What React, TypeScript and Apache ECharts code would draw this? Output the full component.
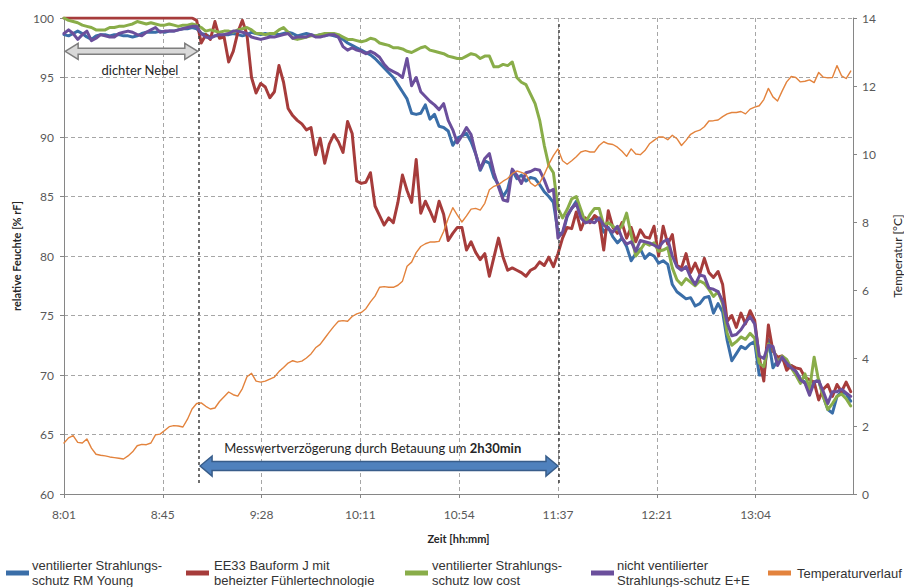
import React, { useEffect, useRef } from 'react';
import * as echarts from 'echarts';

// ---- axis / tick data ----
const tickLabels = ['8:01', '8:45', '9:28', '10:11', '10:54', '11:37', '12:21', '13:04'];
const TICK_STEP_MIN = 43.2; // minutes between labelled ticks
const SAMPLE_STEP_MIN = 2; // minutes between samples
const X_MAX_MIN = 345;

// ---- relative humidity [% rF] ----
const rmYoungRH = [
  98.6, 98.5, 98.7, 98.9, 98.7, 98.4, 98.2, 98.5, 98.6, 98.6,
  98.5, 98.6, 98.6, 98.5, 98.5, 98.4, 98.5, 98.7, 98.8, 98.8,
  98.8, 98.9, 98.8, 98.9, 98.9, 99.0, 99.1, 99.1, 99.2, 99.1,
  98.7, 98.6, 98.4, 98.5, 98.5, 98.6, 98.6, 98.7, 98.6, 98.5,
  98.6, 98.8, 98.7, 98.6, 98.7, 98.6, 98.7, 98.6, 98.7, 98.8,
  98.7, 98.5, 98.6, 98.7, 98.6, 98.5, 98.6, 98.5, 98.6, 98.5,
  98.4, 98.2, 97.9, 97.7, 97.5, 97.3, 97.1, 96.9, 96.6, 96.2,
  95.8, 95.4, 95.0, 94.4, 93.8, 93.2, 92.0, 91.9, 92.0, 92.7,
  91.5, 91.9, 90.9, 90.8, 90.5, 89.3, 89.9, 90.1, 90.3, 89.6,
  88.6, 87.2, 88.0, 87.8, 86.6, 86.0, 85.0, 85.6, 87.2, 86.5,
  86.8, 86.3, 86.6, 86.5, 86.0, 85.4, 85.0, 84.5, 82.0, 81.8,
  83.3, 84.0, 84.6, 83.4, 82.8, 83.0, 83.2, 83.0, 82.0, 82.4,
  81.6, 81.1, 81.5, 80.8, 79.6, 80.2, 80.6, 79.8, 80.2, 80.0,
  79.4, 79.6, 79.3, 77.6, 77.0, 76.7, 76.4, 76.5, 75.8, 76.0,
  76.5, 76.6, 75.2, 76.0, 75.3, 72.9, 71.2, 71.8, 72.4, 72.2,
  72.6, 72.8, 70.0, 70.0, 73.0, 70.6, 71.2, 71.5, 70.7, 70.8,
  70.3, 69.7, 69.4, 68.5, 69.4, 69.6, 68.2, 67.1, 66.8, 68.2,
  68.6, 68.4, 67.8,
];

const ee33RH = [
  100, 100, 100, 100, 100, 100, 100, 100, 100, 100,
  100, 100, 100, 100, 100, 100, 100, 100, 100, 100,
  100, 100, 100, 100, 100, 100, 100, 100, 100, 99.8,
  97.9, 98.6, 98.2, 99.7, 98.3, 98.4, 96.3, 97.2, 98.8, 99.8,
  98.6, 95.0, 93.7, 94.5, 94.2, 93.3, 93.8, 96.0, 94.6, 92.4,
  91.8, 91.4, 91.1, 90.6, 90.8, 88.5, 89.9, 87.8, 89.4, 90.2,
  89.6, 88.7, 91.3, 90.3, 86.3, 86.1, 86.2, 87.0, 84.2, 83.4,
  82.6, 83.2, 82.8, 84.5, 86.8, 85.5, 84.5, 88.1, 83.6, 84.6,
  83.8, 82.9, 84.6, 83.5, 81.3, 81.9, 82.4, 82.4, 80.5, 81.2,
  80.3, 79.7, 80.2, 78.3, 79.9, 81.5, 79.9, 78.8, 79.0, 78.8,
  78.6, 78.3, 78.8, 79.0, 79.5, 79.2, 79.9, 79.1, 80.2, 81.5,
  82.4, 82.3, 83.7, 82.2, 83.2, 82.8, 83.4, 83.1, 80.5, 83.8,
  82.4, 81.9, 82.8, 81.5, 82.4, 81.2, 82.2, 81.6, 81.5, 82.5,
  80.0, 82.5, 81.0, 81.8, 79.2, 79.0, 80.2, 78.6, 79.4, 78.5,
  79.8, 78.6, 78.2, 78.7, 77.6, 74.5, 75.0, 74.0, 75.2, 74.3,
  75.4, 74.6, 71.5, 69.5, 74.2, 72.0, 71.5, 71.6, 70.4, 70.8,
  70.6, 70.5, 69.8, 69.6, 69.4, 67.9, 68.8, 69.2, 68.2, 69.2,
  68.6, 69.4, 68.6,
];

const lowCostRH = [
  100.0, 99.8, 99.7, 99.6, 99.4, 99.3, 99.2, 99.0, 99.0, 99.0,
  99.2, 99.2, 99.3, 99.3, 99.4, 99.5, 99.7, 99.6, 99.5, 99.6,
  99.5, 99.4, 99.4, 99.5, 99.4, 99.3, 99.4, 99.4, 99.5, 99.4,
  99.2, 98.9, 99.0, 98.9, 98.8, 98.9, 98.9, 98.8, 99.0, 99.1,
  99.2, 99.0, 98.7, 98.7, 98.6, 98.7, 98.7, 99.0, 99.2, 98.8,
  98.3, 98.2, 98.3, 98.4, 98.5, 98.5, 98.6, 98.7, 98.7, 98.7,
  98.6, 98.4, 98.2, 98.2, 98.1, 98.0, 98.1, 98.3, 98.2, 97.9,
  97.8, 97.7, 97.5, 97.5, 97.4, 97.2, 97.1, 97.3, 97.5, 97.6,
  97.3, 97.2, 97.1, 97.0, 96.8, 96.7, 96.6, 96.6, 96.8, 97.0,
  96.9, 96.6, 96.8, 96.8, 95.9, 95.9, 96.1, 96.0, 96.3, 95.0,
  94.6, 94.4, 93.6, 92.8, 91.4, 89.3, 87.6, 87.0, 84.0, 83.2,
  83.9, 84.8, 85.0, 83.9, 82.8, 83.5, 84.0, 84.0, 82.6, 82.8,
  82.5, 82.2, 82.5, 83.6, 81.8, 80.0, 80.5, 81.1, 80.9, 81.1,
  80.4, 80.5, 80.7, 79.0, 78.0, 77.6, 78.1, 77.8, 77.5, 77.9,
  77.7, 77.2, 76.6, 77.0, 76.0, 73.5, 72.5, 72.8, 73.2, 73.0,
  73.5, 73.1, 71.0, 70.7, 72.6, 72.3, 71.0, 71.6, 71.3, 70.6,
  70.0, 69.3, 70.1, 68.8, 71.5, 69.5, 68.2, 67.1, 67.6, 68.2,
  68.4, 68.0, 67.4,
];

const eeNonVentRH = [
  98.7, 99.0, 98.7, 98.2, 98.6, 98.9, 98.1, 98.3, 98.6, 98.5,
  98.4, 98.4, 98.7, 98.8, 98.9, 98.8, 98.6, 98.5, 98.8, 99.0,
  99.2, 98.8, 98.9, 98.9, 98.9, 99.0, 99.1, 99.2, 99.3, 99.3,
  98.7, 98.4, 98.3, 98.5, 98.6, 98.6, 98.7, 98.9, 98.9, 98.8,
  98.7, 98.4, 98.3, 98.2, 98.3, 98.4, 98.4, 98.5, 98.6, 98.7,
  98.3, 98.4, 98.4, 98.4, 98.6, 98.4, 98.4, 98.5, 98.6, 98.6,
  98.4, 97.6, 97.3, 97.5, 97.3, 97.2, 97.0, 97.2, 97.0, 96.7,
  96.1, 95.7, 95.5, 95.3, 95.0, 96.6, 94.3, 95.0, 93.8, 93.4,
  93.0, 92.7, 92.3, 92.8, 91.4, 90.6, 89.5, 90.1, 90.8, 90.2,
  88.6, 87.3, 88.2, 88.6, 87.0, 85.8, 84.7, 84.6, 87.3, 86.8,
  86.1, 87.0, 87.1, 87.3, 87.2, 86.4, 85.4, 85.6, 81.5, 82.0,
  83.4, 84.0, 84.4, 83.2, 82.8, 82.9, 82.8, 83.2, 82.6, 82.3,
  82.0, 82.5, 81.5, 81.0, 81.2, 80.4, 81.3, 81.2, 81.1, 80.9,
  80.7, 81.2, 81.4, 80.0, 79.1, 78.8, 79.1, 78.2, 77.6, 78.4,
  78.3, 77.3, 77.2, 77.0, 76.2, 74.4, 73.3, 73.4, 73.8, 74.4,
  74.9, 74.3, 71.6, 71.4, 72.5, 72.4, 70.8, 71.5, 71.0, 70.6,
  70.3, 69.6, 69.3, 68.3, 69.4, 69.5, 68.6, 67.6, 68.6, 68.6,
  68.8, 68.5, 68.2,
];

// ---- temperature [°C] (right axis) ----
const temperatureC = [
  1.50, 1.65, 1.72, 1.52, 1.50, 1.62, 1.35, 1.17, 1.14, 1.12,
  1.09, 1.07, 1.05, 1.03, 1.12, 1.24, 1.42, 1.46, 1.45, 1.50,
  1.74, 1.76, 1.87, 1.98, 2.01, 2.00, 1.97, 2.20, 2.50, 2.66,
  2.68, 2.58, 2.50, 2.53, 2.72, 2.86, 3.00, 2.92, 2.88, 3.10,
  3.45, 3.55, 3.32, 3.29, 3.32, 3.38, 3.44, 3.60, 3.72, 3.85,
  3.92, 3.88, 3.91, 4.00, 4.12, 4.30, 4.40, 4.58, 4.76, 4.93,
  5.08, 5.10, 5.08, 5.22, 5.30, 5.34, 5.45, 5.65, 5.82, 6.08,
  6.10, 6.08, 6.08, 6.14, 6.26, 6.70, 6.82, 7.10, 7.28, 7.36,
  7.41, 7.41, 7.43, 7.72, 8.10, 8.42, 8.20, 8.00, 8.18, 8.38,
  8.40, 8.35, 8.55, 8.95, 9.05, 9.10, 9.20, 9.28, 9.42, 9.50,
  9.46, 9.40, 9.15, 9.05, 9.15, 9.40, 9.70, 9.95, 10.15, 9.80,
  9.70, 9.80, 9.92, 10.06, 10.10, 10.06, 10.06, 10.25, 10.36, 10.30,
  10.28, 10.20, 10.08, 9.93, 10.15, 10.00, 9.98, 10.10, 10.30, 10.40,
  10.50, 10.50, 10.42, 10.55, 10.45, 10.25, 10.40, 10.58, 10.66, 10.70,
  10.80, 10.97, 10.98, 11.00, 11.10, 11.18, 11.22, 11.22, 11.25, 11.18,
  11.32, 11.38, 11.42, 11.60, 11.93, 11.68, 11.56, 11.85, 12.12, 12.28,
  12.25, 12.12, 12.14, 12.18, 12.10, 12.40, 12.26, 12.24, 12.25, 12.60,
  12.30, 12.22, 12.44,
];

const seriesNames = [
  'ventilierter Strahlungs-\nschutz RM Young',
  'EE33 Bauform J mit\nbeheizter Fühlertechnologie',
  'ventilierter Strahlungs-\nschutz low cost',
  'nicht ventilierter\nStrahlungs-schutz E+E',
  'Temperaturverlauf',
];
const seriesColors = ['#3A6EA8', '#A63C3B', '#89AD49', '#6B4F9C', '#E3833D'];

// ---- annotation spans (minutes after 8:01) ----
const fogStartEnd = [0.5, 58.5];
const fogLevelRH = 97.2;
const fogLabelAt = [33.2, 95.6];
const delayLines = [59, 216.4];
const delayArrowStartEnd = [59.5, 216];
const delayLevelRH = 62.35;
const delayLabelAt = [135, 63.9];

const toPairs = (vals: number[]) => vals.map((v, i) => [i * SAMPLE_STEP_MIN, v]);

const xLabel = (v: number) => {
  const idx = Math.round(v / TICK_STEP_MIN);
  if (Math.abs(v - idx * TICK_STEP_MIN) > 0.01) return '';
  return tickLabels[idx] ?? '';
};

function doubleArrow(x1: number, x2: number, yc: number, s: number, h: number, L: number) {
  return [
    [x1, yc], [x1 + L, yc - h], [x1 + L, yc - s], [x2 - L, yc - s], [x2 - L, yc - h],
    [x2, yc], [x2 - L, yc + h], [x2 - L, yc + s], [x1 + L, yc + s], [x1 + L, yc + h],
  ];
}

export default function App() {
  const ref = useRef<HTMLDivElement>(null);

  useEffect(() => {
    const el = ref.current;
    if (!el) return;
    const chart = echarts.init(el, null, { renderer: 'svg' });
    const axisGray = '#868686';
    const labelColor = '#595959';
    const calibri = 'Lato, "Open Sans", sans-serif';

    const lineSeries = (i: number, vals: number[], yAxisIndex: number, width: number, extra: any = {}) => ({
      name: seriesNames[i],
      type: 'line',
      yAxisIndex,
      data: toPairs(vals),
      symbol: 'none',
      showSymbol: false,
      smooth: false,
      lineStyle: { color: seriesColors[i], width, join: 'round', cap: 'round' },
      itemStyle: { color: seriesColors[i] },
      z: 2 + i,
      ...extra,
    });

    const option: any = {
      animation: false,
      backgroundColor: '#ffffff',
      grid: {
        left: 64,
        top: 18,
        width: 789,
        height: 476,
        containLabel: false,
        outerBoundsMode: 'none',
      },
      xAxis: {
        type: 'value',
        min: 0,
        max: X_MAX_MIN,
        interval: TICK_STEP_MIN,
        axisLine: { show: true, lineStyle: { color: axisGray, width: 1 } },
        axisTick: { show: true, length: 4, lineStyle: { color: axisGray } },
        axisLabel: {
          formatter: xLabel,
          color: labelColor,
          fontFamily: calibri,
          fontSize: 12,
          margin: 14,
          showMaxLabel: false,
        },
        splitLine: { show: true, lineStyle: { color: '#A6A6A6', type: [4, 3], width: 1 } },
        name: 'Zeit [hh:mm]',
        nameLocation: 'middle',
        nameGap: 39,
        nameTextStyle: { fontWeight: 'bold', fontSize: 11, fontFamily: calibri, color: '#262626' },
      },
      yAxis: [
        {
          type: 'value',
          position: 'left',
          min: 60,
          max: 100,
          interval: 5,
          axisLine: { show: true, lineStyle: { color: axisGray, width: 1 } },
          axisTick: { show: true, length: 4, lineStyle: { color: axisGray } },
          axisLabel: { color: labelColor, fontFamily: calibri, fontSize: 12, margin: 10 },
          splitLine: { show: true, lineStyle: { color: '#A6A6A6', type: [4, 3], width: 1 } },
          name: 'relative Feuchte [% rF]',
          nameLocation: 'middle',
          nameGap: 40,
          nameRotate: 90,
          nameTextStyle: { fontWeight: 'bold', fontSize: 11, fontFamily: calibri, color: '#262626' },
        },
        {
          type: 'value',
          position: 'right',
          min: 0,
          max: 14,
          interval: 2,
          axisLine: { show: true, lineStyle: { color: axisGray, width: 1 } },
          axisTick: { show: true, length: 4, lineStyle: { color: axisGray } },
          axisLabel: { color: labelColor, fontFamily: calibri, fontSize: 12, margin: 9 },
          splitLine: { show: false },
          name: 'Temperatur [°C]',
          nameLocation: 'middle',
          nameGap: 38,
          nameRotate: 90,
          nameTextStyle: { fontSize: 12, fontFamily: calibri, color: '#262626' },
        },
      ],
      series: [
        lineSeries(0, rmYoungRH, 0, 3, {
          markLine: {
            silent: true,
            symbol: ['none', 'none'],
            label: { show: false },
            lineStyle: { color: '#404040', type: [3, 3], width: 1.5 },
            data: delayLines.map((t) => [{ coord: [t, 99.5] }, { coord: [t, 60.8] }]),
          },
        }),
        lineSeries(1, ee33RH, 0, 3),
        lineSeries(2, lowCostRH, 0, 3),
        lineSeries(3, eeNonVentRH, 0, 3),
        lineSeries(4, temperatureC, 1, 1.4),
      ],
    };

    chart.setOption(option);

    const px = (t: number, v: number) =>
      chart.convertToPixel({ xAxisIndex: 0, yAxisIndex: 0 }, [t, v]) as number[];

    const fogA = px(fogStartEnd[0], fogLevelRH);
    const fogB = px(fogStartEnd[1], fogLevelRH);
    const fogLabel = px(fogLabelAt[0], fogLabelAt[1]);
    const delA = px(delayArrowStartEnd[0], delayLevelRH);
    const delB = px(delayArrowStartEnd[1], delayLevelRH);
    const delLabel = px(delayLabelAt[0], delayLabelAt[1]);

    const legendIconX = [6, 186, 405, 591, 768];
    const legendTextX = [32, 214, 432, 617, 797];

    const graphic: any[] = [
      {
        type: 'polygon',
        z: 50,
        shape: { points: doubleArrow(fogA[0], fogB[0], fogA[1], 3, 8, 13) },
        style: { fill: '#D9D9D9', stroke: '#7F7F7F', lineWidth: 1.5 },
      },
      {
        type: 'text',
        z: 50,
        x: fogLabel[0],
        y: fogLabel[1],
        style: {
          text: 'dichter Nebel',
          fontFamily: calibri,
          fontSize: 13,
          fill: '#262626',
          align: 'center',
          verticalAlign: 'middle',
        },
      },
      {
        type: 'polygon',
        z: 50,
        shape: { points: doubleArrow(delA[0], delB[0], delA[1], 4.5, 10, 12) },
        style: { fill: '#4F81BD', stroke: '#385D8A', lineWidth: 1.5 },
      },
      {
        type: 'text',
        z: 50,
        x: delLabel[0],
        y: delLabel[1],
        style: {
          text: '{a|Messwertverzögerung durch Betauung um }{b|2h30min}',
          align: 'center',
          verticalAlign: 'middle',
          rich: {
            a: { fontFamily: calibri, fontSize: 13, fill: '#262626', color: '#262626' },
            b: { fontFamily: calibri, fontSize: 13, fontWeight: 'bold', fill: '#262626', color: '#262626' },
          },
        },
      },
    ];

    seriesNames.forEach((name, i) => {
      const twoLines = name.includes('\n');
      graphic.push({
        type: 'rect',
        z: 50,
        shape: { x: legendIconX[i], y: 570.5, width: 23, height: 5 },
        style: { fill: seriesColors[i] },
      });
      graphic.push({
        type: 'text',
        z: 50,
        x: legendTextX[i],
        y: twoLines ? 558 : 573,
        style: {
          text: name,
          fontFamily: '"Liberation Sans", Arial, sans-serif',
          fontSize: 13,
          lineHeight: 15,
          fill: '#333333',
          align: 'left',
          verticalAlign: twoLines ? 'top' : 'middle',
        },
      });
    });

    chart.setOption({ graphic });

    return () => chart.dispose();
  }, []);

  return (
    <div
      ref={ref}
      style={{ position: 'absolute', left: 0, top: 0, width: 904, height: 587, background: '#ffffff' }}
    />
  );
}
